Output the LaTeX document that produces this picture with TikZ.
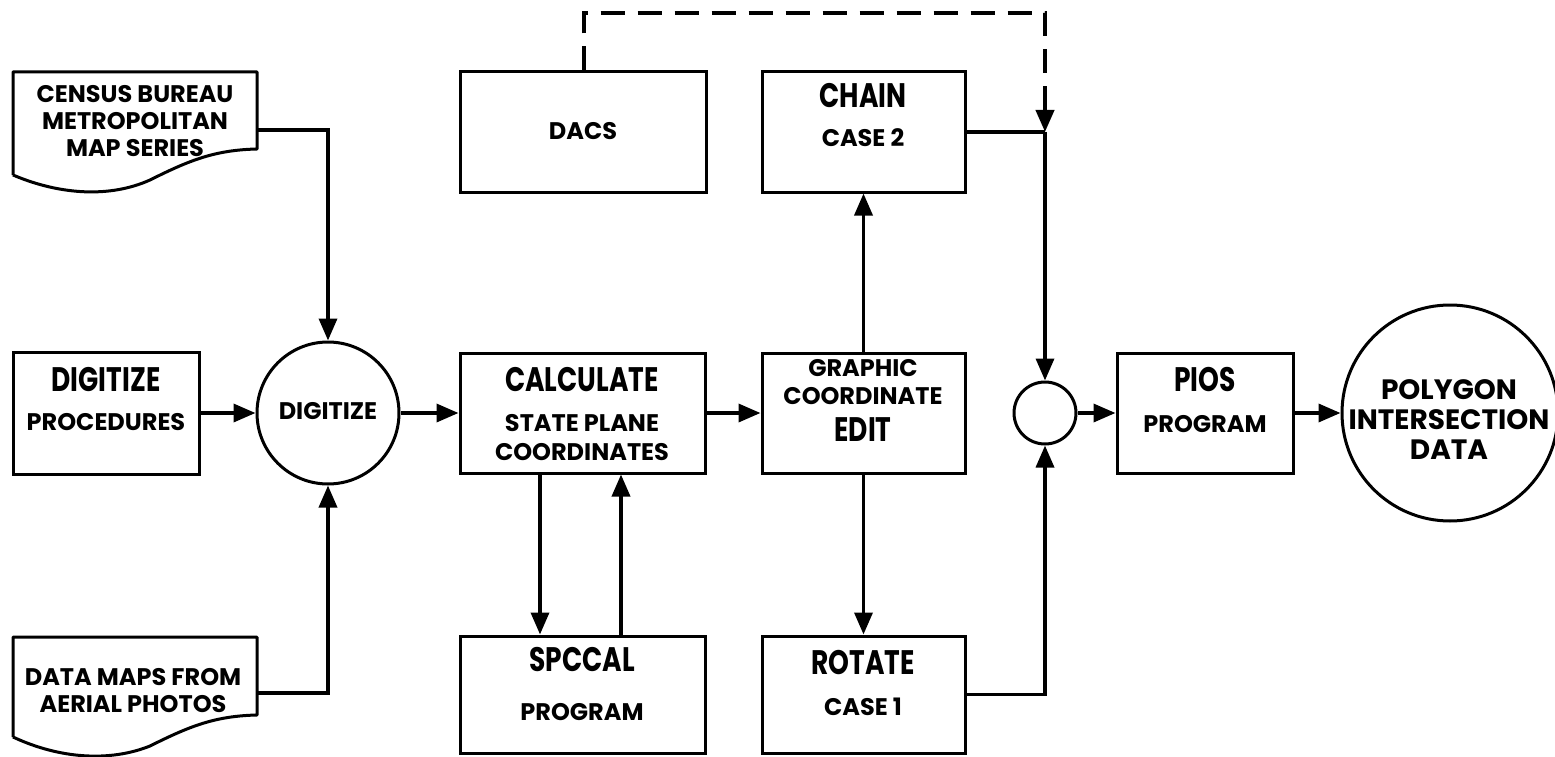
\documentclass[tikz,border=0pt]{standalone}
\usepackage{fontspec}
\setmainfont{Poppins}
\newfontfamily\condfont{Poppins}[FakeStretch=0.78]
\usetikzlibrary{arrows.meta}
\begin{document}
\begin{tikzpicture}[x=1pt,y=-1pt,
  box/.style={draw,line width=3pt,rectangle,inner sep=0pt},
  circ/.style={draw,line width=3pt,circle,inner sep=0pt},
  arr/.style={line width=3.5pt,-{Triangle[length=22pt,width=18pt]}},
  conn/.style={line width=3.5pt},
  small/.style={font=\fontsize{24}{27}\selectfont\bfseries,align=center,inner sep=0pt},
  big/.style={font=\fontsize{34}{36}\selectfont\condfont\bfseries,align=center,inner sep=0pt},
  dashline/.style={line width=4pt,dash pattern=on 24pt off 13pt}]
\useasboundingbox (0,0) rectangle (1555,757);

% document shapes
\draw[line width=3pt,line join=round] (13,175) -- (13,72) -- (257,72) -- (257,149)
  .. controls (215,150) and (190,160) .. (150,180)
  .. controls (110,198) and (60,195) .. (13,175);
\draw[line width=3pt,line join=round] (13,737) -- (13,637) -- (257,637) -- (257,715)
  .. controls (215,716) and (190,726) .. (150,746)
  .. controls (110,762) and (60,759) .. (13,737);
\node[small] (census) at (135,121) {CENSUS BUREAU\\METROPOLITAN\\MAP SERIES};
\node[small] (datamaps) at (133,691) {DATA MAPS FROM\\AERIAL PHOTOS};
\coordinate (censusout) at (257,130);
\coordinate (datamapsout) at (257,693);

% boxes
\node[box,minimum width=186pt,minimum height=122pt] (proc) at (106.5,413) {};
\node[circ,minimum size=142pt] (digit) at (328,413) {};
\node[box,minimum width=245pt,minimum height=120pt] (calc) at (582.5,413) {};
\node[box,minimum width=245pt,minimum height=117pt] (spccal) at (582.5,694.5) {};
\node[box,minimum width=246pt,minimum height=120pt] (dacs) at (583,132) {};
\node[box,minimum width=203pt,minimum height=120pt] (chain) at (863.5,132) {};
\node[box,minimum width=203pt,minimum height=120pt] (gce) at (863.5,413) {};
\node[box,minimum width=203pt,minimum height=117pt] (rotate) at (863.5,694.5) {};
\node[circ,minimum size=62pt] (junc) at (1045,413) {};
\node[box,minimum width=176pt,minimum height=120pt] (pios) at (1205,413) {};
\node[circ,minimum size=216pt] (poly) at (1450,413) {};

% texts
\node[big] (procA) at (106,380) {DIGITIZE};
\node[small] (procB) at (106,422) {PROCEDURES};
\node[small] (digitT) at (328,411) {DIGITIZE};
\node[big] (calcA) at (582,380) {CALCULATE};
\node[small] (calcB) at (582,423) {STATE PLANE};
\node[small] (calcC) at (582,452) {COORDINATES};
\node[big] (spccalA) at (582,660) {SPCCAL};
\node[small] (spccalB) at (582,712) {PROGRAM};
\node[small] (dacsT) at (583,131) {DACS};
\node[big] (chainA) at (863,96) {CHAIN};
\node[small] (chainB) at (863,138) {CASE 2};
\node[small] (gceA) at (863,368) {GRAPHIC};
\node[small] (gceB) at (863,396) {COORDINATE};
\node[big] (gceC) at (863,430) {EDIT};
\node[big] (rotateA) at (863,663) {ROTATE};
\node[small] (rotateB) at (863,707) {CASE 1};
\node[big] (piosA) at (1205,380) {PIOS};
\node[small] (piosB) at (1205,424) {PROGRAM};
\node[font=\fontsize{28}{30}\selectfont\bfseries,align=center,inner sep=0pt] (polyT) at (1449,420) {POLYGON\\INTERSECTION\\DATA};

% connectors
\draw[arr] (censusout) -| (digit.north);
\draw[arr] (datamapsout) -| (digit.south);
\draw[arr] (proc.east) -- (digit.west);
\draw[arr] (digit.east) -- (calc.west);
\draw[arr] ([xshift=-42.5pt]calc.south) -- ([xshift=-42.5pt]spccal.north);
\draw[arr] ([xshift=38.5pt]spccal.north) -- ([xshift=38.5pt]calc.south);
\draw[arr] (calc.east) -- (gce.west);
\draw[arr] (gce.north) -- (chain.south);
\draw[arr] (gce.south) -- (rotate.north);
\coordinate (merge) at (1045,132);
\coordinate (dtop) at (1045,13);
\draw[conn] (chain.east) -- (merge);
\draw[arr] (merge) -- (junc.north);
\draw[arr] (rotate.east) -| (junc.south);
\draw[dashline,-{Triangle[length=22pt,width=18pt]}] ([xshift=1pt]dacs.north) |- (dtop) -- (merge);
\draw[arr] (junc.east) -- (pios.west);
\draw[arr] (pios.east) -- (poly.west);
\end{tikzpicture}
\end{document}
